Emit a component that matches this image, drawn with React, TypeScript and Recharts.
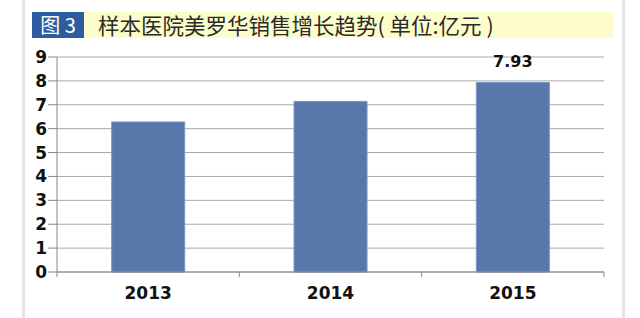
import { BarChart, Bar, XAxis, YAxis, CartesianGrid, LabelList } from 'recharts';

const years = ['2013', '2014', '2015'];
const sales = [6.28, 7.14, 7.93];
const labelled = [false, false, true];
const yTicks = [0, 1, 2, 3, 4, 5, 6, 7, 8, 9];

const data = years.map((year, i) => ({ year, sales: sales[i], show: labelled[i] }));

const PLOT_LEFT = 57;
const PLOT_RIGHT = 604;
const BAND = (PLOT_RIGHT - PLOT_LEFT) / years.length;

const tickFont = { fontFamily: '"DejaVu Sans", Verdana, sans-serif', fontWeight: 700, fontSize: 17, fill: '#111' };

// year label plus the short marks that sit on the band edges
const YearTick = (props: any) => {
  const { x, y, payload, index } = props;
  return (
    <g>
      {index === 0 && <line x1={x - BAND / 2} y1={y} x2={x - BAND / 2} y2={y + 5} stroke="#888" />}
      <line x1={x + BAND / 2} y1={y} x2={x + BAND / 2} y2={y + 5} stroke="#888" />
      <text x={x} y={y + 21} textAnchor="middle" dominantBaseline="central" {...tickFont}>
        {payload.value}
      </text>
    </g>
  );
};

const ValueLabel = (props: any) => {
  const { x, y, width, value, index } = props;
  if (!data[index]?.show) return null;
  return (
    <text x={x + width / 2} y={y - 21} textAnchor="middle" dominantBaseline="central" {...tickFont} fontSize={16}>
      {value}
    </text>
  );
};

export default function App() {
  return (
    <div style={{ position: 'fixed', left: 0, top: 0, width: 640, height: 318, background: '#fff', overflow: 'hidden' }}>
      <div style={{ position: 'absolute', left: 22, top: 0, width: 597, height: 318, borderLeft: '3px solid #e4e4e4', borderRight: '3px solid #e4e4e4' }} />
      <div style={{ position: 'absolute', left: 33, top: 12, width: 580, height: 26, background: '#fdfdcb' }} />
      <div
        style={{
          position: 'absolute', left: 32, top: 12, width: 52, height: 26, background: '#2d5c9f', color: '#fff',
          fontFamily: '"Noto Sans CJK SC", sans-serif', fontSize: 20, lineHeight: '26px', textAlign: 'center',
        }}
      >
        图 3
      </div>
      <div
        style={{
          position: 'absolute', left: 98, top: 12, height: 26, color: '#2a2a2a', whiteSpace: 'nowrap',
          fontFamily: '"Noto Sans CJK SC", sans-serif', fontSize: 21.5, lineHeight: '26px',
        }}
      >
        样本医院美罗华销售增长趋势( 单位:亿元 )
      </div>
      <div style={{ position: 'absolute', left: 0, top: 0 }}>
        <BarChart width={640} height={318} data={data} margin={{ top: 57, right: 640 - PLOT_RIGHT, bottom: 16, left: 0 }} barCategoryGap="30%">
          <CartesianGrid vertical={false} stroke="#a8a8a8" />
          <XAxis dataKey="year" height={30} tickSize={0} tickMargin={0} tickLine={false} axisLine={{ stroke: '#888' }} tick={<YearTick />} interval={0} />
          <YAxis
            width={PLOT_LEFT}
            domain={[0, 9]}
            ticks={yTicks}
            interval={0}
            tickSize={9}
            tickMargin={1}
            tickLine={{ stroke: '#888' }}
            axisLine={{ stroke: '#888' }}
            tick={tickFont}
          />
          <Bar dataKey="sales" fill="#5a77ab" stroke="#7b93c2" strokeWidth={1} isAnimationActive={false}>
            <LabelList dataKey="sales" content={<ValueLabel />} />
          </Bar>
        </BarChart>
      </div>
    </div>
  );
}
